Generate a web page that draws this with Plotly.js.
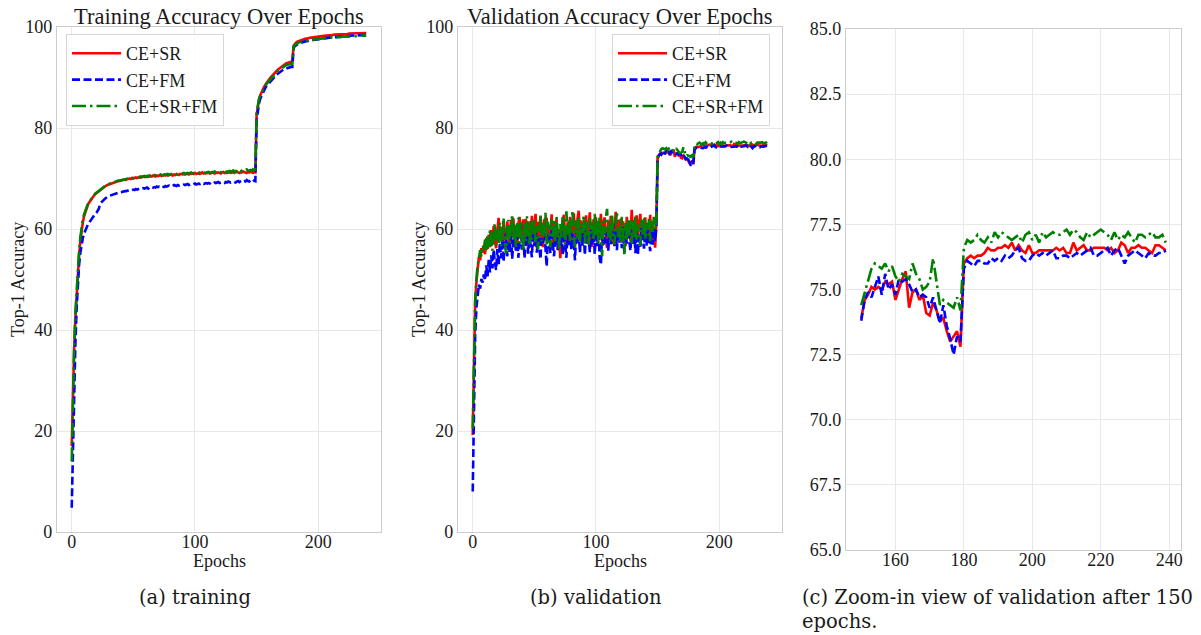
<!DOCTYPE html>
<html>
<head>
<meta charset="utf-8">
<script src="https://cdn.plot.ly/plotly-3.0.1.min.js"></script>
<style>html,body{margin:0;padding:0;background:#fff;}#chart{width:1201px;height:635px;}</style>
</head>
<body>
<div id="chart"></div>
<script>
// ---------- DATA ----------
const seriesNames = ["CE+SR", "CE+FM", "CE+SR+FM"];

const trainSR = [
17.0,28.0,36.5,42.5,47.5,51.5,54.8,57.6,59.8,61.3,
62.5,63.4,64.1,64.7,65.2,65.6,66.0,66.3,66.6,66.9,
67.1,67.3,67.5,67.7,68.0,68.1,68.3,68.4,68.6,68.7,
68.8,68.9,69.0,69.1,69.1,69.3,69.3,69.4,69.5,69.5,
69.6,69.6,69.7,69.8,69.7,69.9,69.9,70.0,69.9,70.1,
70.0,70.1,70.2,70.1,70.2,70.3,70.2,70.3,70.4,70.3,
70.4,70.3,70.5,70.4,70.5,70.4,70.6,70.5,70.4,70.6,
70.5,70.6,70.7,70.5,70.6,70.7,70.6,70.8,70.6,70.7,
70.8,70.7,70.6,70.8,70.7,70.9,70.8,70.7,70.9,70.8,
70.8,70.9,70.8,71.0,70.9,70.8,71.0,70.9,71.0,70.9,
71.1,70.9,71.0,71.1,70.9,71.0,71.2,71.0,71.1,71.0,
71.1,71.2,71.0,71.1,71.2,71.1,71.0,71.2,71.1,71.2,
71.1,71.0,71.2,71.3,71.1,71.2,71.1,71.3,71.2,71.1,
71.2,71.3,71.1,71.2,71.4,71.2,71.1,71.3,71.2,71.4,
71.3,71.2,71.1,71.3,71.2,71.4,71.2,71.1,71.3,71.2,
82.5,84.6,85.7,86.5,87.1,87.6,88.1,88.5,88.9,89.3,
89.6,89.9,90.2,90.5,90.8,91.0,91.3,91.5,91.7,91.9,
92.1,92.3,92.5,92.6,92.8,92.9,93.0,93.1,93.1,93.2,
96.3,96.7,96.9,97.1,97.2,97.3,97.4,97.5,97.5,97.6,
97.7,97.7,97.8,97.8,97.9,97.9,98.0,98.0,98.0,98.1,
98.1,98.1,98.2,98.2,98.2,98.3,98.3,98.3,98.3,98.4,
98.4,98.4,98.4,98.5,98.5,98.5,98.5,98.5,98.6,98.6,
98.6,98.6,98.6,98.6,98.6,98.7,98.7,98.7,98.7,98.7,
98.7,98.7,98.7,98.8,98.7,98.8,98.8,98.8,98.8,98.8];

const trainFM = [
4.8,18.0,29.0,37.5,44.5,49.5,53.0,55.3,57.0,58.2,
59.1,59.8,60.3,60.8,61.2,61.6,62.0,62.4,62.7,63.0,
63.2,63.5,64.0,65.0,65.3,65.6,65.8,66.0,66.2,66.4,
66.5,66.6,66.7,66.8,66.9,67.0,67.1,67.2,67.2,67.3,
67.3,67.4,67.4,67.5,67.5,67.6,67.6,67.7,67.6,67.7,
67.8,67.7,67.9,67.8,67.9,68.0,67.9,68.0,68.1,68.0,
68.1,68.2,68.0,68.2,68.1,68.3,68.2,68.3,68.2,68.4,
68.3,68.4,68.3,68.5,68.4,68.3,68.5,68.4,68.5,68.6,
68.5,68.6,68.5,68.7,68.6,68.5,68.7,68.6,68.7,68.8,
68.7,68.8,68.7,68.8,68.9,68.7,68.8,68.9,68.8,68.9,
69.0,68.8,68.9,69.0,68.9,69.0,69.1,68.9,69.0,69.1,
69.0,69.1,69.0,69.2,69.1,69.0,69.2,69.1,69.2,69.3,
69.1,69.2,69.3,69.2,69.1,69.3,69.2,69.4,69.3,69.2,
69.3,69.4,69.3,69.2,69.4,69.5,69.3,69.4,69.6,69.4,
69.5,69.4,69.7,69.5,69.4,69.6,69.5,69.3,69.6,69.5,
81.5,83.6,84.9,85.8,86.4,86.9,87.4,87.9,88.3,88.6,
88.9,89.2,89.5,89.8,90.1,90.3,90.5,90.7,90.9,91.1,
91.3,91.4,91.6,91.7,91.8,91.9,92.0,92.0,92.1,92.1,
95.8,96.2,96.4,96.6,96.7,96.8,96.9,97.0,97.1,97.1,
97.2,97.2,97.3,97.3,97.4,97.4,97.5,97.5,97.5,97.6,
97.6,97.6,97.7,97.7,97.7,97.8,97.8,97.8,97.9,97.9,
97.9,97.9,98.0,98.0,98.0,98.0,98.1,98.1,98.1,98.1,
98.1,98.2,98.2,98.2,98.2,98.2,98.3,98.3,98.3,98.3,
98.3,98.3,98.4,98.4,98.4,98.4,98.4,98.4,98.4,98.5];

const trainSRFM = [
14.0,27.5,37.0,43.5,48.5,52.5,55.8,58.4,60.5,61.9,
62.9,63.7,64.3,64.9,65.3,65.7,66.1,66.4,66.7,67.0,
67.2,67.4,67.6,67.8,68.0,68.2,68.3,68.5,68.6,68.8,
68.9,69.0,69.1,69.1,69.3,69.3,69.4,69.5,69.6,69.6,
69.7,69.7,69.8,69.8,69.9,69.9,70.0,70.0,70.1,70.1,
70.1,70.2,70.2,70.3,70.3,70.2,70.4,70.3,70.4,70.5,
70.4,70.5,70.4,70.6,70.5,70.6,70.5,70.7,70.6,70.5,
70.7,70.6,70.8,70.7,70.6,70.8,70.7,70.8,70.9,70.7,
70.8,70.9,70.8,70.9,71.0,70.8,70.9,71.0,70.9,71.0,
71.0,71.1,70.9,71.0,71.1,71.0,71.1,71.2,71.0,71.1,
71.1,71.2,71.1,71.0,71.2,71.1,71.2,71.3,71.1,71.2,
71.2,71.3,71.2,71.1,71.3,71.2,71.4,71.2,71.3,71.4,
71.3,71.2,71.4,71.3,71.5,71.3,71.4,71.3,71.5,71.4,
71.4,71.6,71.4,71.5,71.3,71.5,71.6,71.4,71.5,71.7,
71.5,71.6,71.8,71.5,71.6,71.7,71.5,71.8,71.6,71.7,
83.0,84.8,85.8,86.5,87.0,87.5,87.9,88.3,88.7,89.0,
89.3,89.6,89.9,90.2,90.5,90.7,91.0,91.2,91.4,91.6,
91.8,92.0,92.1,92.3,92.4,92.5,92.6,92.6,92.7,92.7,
96.0,96.4,96.6,96.8,96.9,97.0,97.1,97.1,97.2,97.2,
97.3,97.3,97.4,97.4,97.5,97.5,97.5,97.6,97.6,97.6,
97.7,97.7,97.7,97.7,97.8,97.8,97.8,97.8,97.9,97.9,
97.9,97.9,97.9,98.0,98.0,98.0,98.0,98.0,98.0,98.1,
98.1,98.1,98.1,98.1,98.1,98.1,98.2,98.2,98.2,98.2,
98.2,98.2,98.2,98.2,98.2,98.3,98.3,98.3,98.3,98.3];

const valSR = [
19.2,36.0,45.5,49.5,52.5,54.5,53.8,56.2,55.3,56.8,
55.0,58.2,56.0,58.9,56.4,59.8,57.0,60.6,57.6,56.2,
59.6,62.2,57.8,60.4,56.9,61.3,58.5,57.2,61.5,59.0,
57.0,61.8,58.6,62.1,57.5,60.3,56.3,61.0,62.4,58.0,
60.2,61.9,57.1,62.0,59.0,56.6,61.5,58.4,62.6,57.4,
60.6,63.0,58.1,61.4,57.0,62.5,59.1,56.4,61.9,59.6,
62.2,57.5,60.8,58.3,62.9,57.1,61.2,58.8,62.0,55.9,
59.9,54.2,58.0,61.6,62.8,58.3,56.6,61.3,58.6,62.4,
57.6,61.0,63.1,59.1,57.0,62.0,63.6,58.7,61.7,56.8,
61.4,58.4,62.7,57.2,60.7,63.3,58.1,56.5,61.9,59.2,
62.3,57.9,61.2,59.0,63.0,57.5,61.1,62.3,58.3,56.2,
61.6,58.8,62.6,57.0,60.9,59.4,63.4,57.6,61.8,58.6,
62.0,57.3,61.5,58.5,56.6,62.4,59.0,61.1,57.7,63.8,
58.9,61.8,57.4,62.7,58.3,61.0,63.0,57.8,61.4,58.7,
62.3,57.6,60.9,58.5,62.8,57.3,61.2,58.9,56.3,61.5,
73.9,74.6,74.8,75.1,75.0,75.1,75.0,75.3,75.2,75.3,
74.6,75.0,75.4,75.7,74.3,74.9,75.0,74.6,74.8,74.1,
74.0,74.5,74.2,73.8,73.9,73.4,73.0,73.2,73.4,72.8,
76.0,76.2,76.3,76.2,76.3,76.3,76.4,76.6,76.5,76.5,
76.6,76.6,76.7,76.6,76.8,76.5,76.7,76.5,76.4,76.7,
76.4,76.4,76.5,76.5,76.5,76.5,76.5,76.6,76.5,76.6,
76.4,76.4,76.8,76.5,76.6,76.7,76.5,76.5,76.6,76.6,
76.6,76.6,76.5,76.6,76.4,76.5,76.8,76.7,76.4,76.6,
76.6,76.7,76.6,76.6,76.5,76.4,76.7,76.7,76.6,76.5];

const valFM = [
8.0,27.5,39.0,44.5,47.5,49.0,48.2,50.1,49.4,51.0,
49.8,52.8,50.6,53.9,51.4,54.8,52.2,55.9,53.3,51.9,
56.0,52.8,57.3,54.2,58.0,53.5,56.9,59.2,54.6,57.6,
55.2,59.4,54.1,58.1,60.3,55.4,58.7,54.3,58.4,61.0,
55.9,59.0,54.2,58.3,59.9,55.1,59.3,56.8,54.4,59.7,
56.6,60.4,55.3,58.8,56.5,54.0,59.6,57.2,60.1,55.7,
52.6,58.6,59.3,55.2,60.0,56.9,54.6,58.9,60.8,55.8,
59.2,56.4,60.3,54.9,59.4,57.0,54.3,59.7,56.6,60.6,
55.8,59.1,57.1,53.8,59.9,57.3,59.2,55.3,60.2,56.7,
59.4,54.8,60.0,57.1,58.8,55.4,60.5,56.9,59.6,55.0,
59.7,56.6,60.1,54.3,52.9,59.2,56.5,59.8,57.2,59.4,
55.7,60.3,57.0,58.9,61.0,56.6,59.5,55.8,60.0,57.3,
59.3,56.2,60.4,55.3,59.6,57.1,60.1,57.6,55.7,59.8,
56.8,59.7,55.2,60.5,54.9,59.1,56.4,60.2,57.5,56.1,
59.4,56.7,59.9,57.3,55.6,59.5,56.9,60.0,57.6,60.4,
73.8,74.6,74.9,74.7,75.1,75.5,74.8,75.6,75.0,75.2,
74.8,75.4,75.3,75.4,75.2,74.9,75.0,74.7,74.8,74.7,
74.3,74.7,74.2,73.7,74.4,73.6,73.1,72.5,73.2,73.0,
75.8,76.1,76.0,75.9,76.1,76.1,76.0,76.0,76.2,76.1,
76.2,76.1,76.3,76.2,76.3,76.5,76.6,76.2,76.1,76.1,
76.3,76.4,76.3,76.4,76.3,76.4,76.5,76.2,76.2,76.3,
76.3,76.2,76.3,76.4,76.3,76.4,76.5,76.6,76.3,76.3,
76.4,76.5,76.6,76.3,76.5,76.6,76.3,76.0,76.3,76.4,
76.5,76.4,76.3,76.2,76.4,76.3,76.3,76.4,76.4,76.5];

const valSRFM = [
20.5,37.0,46.0,50.0,53.0,54.0,55.8,54.6,56.7,55.9,
57.9,55.8,58.9,56.4,59.9,57.2,55.7,59.7,61.1,56.8,
59.9,57.1,61.3,56.6,60.5,62.2,57.5,55.2,60.3,61.8,
57.2,60.4,62.9,57.9,61.1,56.4,60.6,62.2,57.2,61.5,
59.2,55.6,61.0,57.6,62.5,59.6,56.7,61.7,57.9,60.1,
62.0,57.3,60.7,56.0,60.3,62.9,57.6,61.2,58.5,63.2,
57.0,61.4,58.7,56.4,62.0,58.4,61.6,57.4,62.4,59.6,
56.1,61.0,58.0,62.7,59.0,57.0,63.5,58.9,61.8,57.4,
61.2,63.7,58.4,56.4,61.7,58.2,62.3,57.5,61.0,59.2,
62.8,57.1,61.5,58.6,56.8,62.2,59.1,61.3,57.7,63.0,
58.6,61.8,57.2,62.6,58.4,54.6,61.6,59.1,62.2,64.0,
58.3,61.3,57.5,62.8,59.4,56.9,61.5,63.1,58.4,60.5,
57.4,62.4,59.1,55.0,61.2,57.9,62.0,58.6,61.7,57.1,
61.4,58.3,62.6,57.7,61.0,59.0,56.7,61.8,58.5,62.3,
57.9,61.2,58.8,62.0,57.6,61.6,59.2,62.4,60.0,61.8,
74.4,74.9,75.4,75.8,76.0,75.9,75.8,76.0,75.7,75.9,
75.5,75.3,75.6,75.5,75.4,76.0,75.6,75.4,75.0,75.1,
75.3,76.2,75.2,74.4,74.6,74.5,74.4,74.3,74.7,74.2,
76.6,76.9,76.8,76.9,77.1,76.9,76.8,77.0,76.8,77.2,
77.0,77.2,77.1,77.0,76.9,77.0,77.1,76.8,77.1,77.2,
76.9,77.1,76.8,77.2,77.0,77.1,77.2,77.1,77.1,77.2,
77.3,77.1,77.3,77.2,77.0,76.9,77.2,77.0,77.1,77.2,
77.3,77.2,77.1,76.9,77.2,76.9,77.1,77.0,77.2,77.0,
76.8,77.1,77.1,77.0,77.1,77.2,77.0,77.0,77.1,76.8];

const zoomStartEpoch = 150;

const xTicksAB = [0, 100, 200];
const yTicksAB = [0, 20, 40, 60, 80, 100];
const xTicksC = [160, 180, 200, 220, 240];
const yTicksC = [65, 67.5, 70, 72.5, 75, 77.5, 80, 82.5, 85];

// ---------- STYLE ----------
const colors = ["#ff0000", "#0000ff", "#008000"];
const dashes = ["solid", "8px,3.5px", "14px,4px,2.5px,4px"];
const LW = 2.6;
const SERIF = "'Liberation Serif', 'Times New Roman', serif";
const CAPF = "'DejaVu Serif', serif";
const gridC = "#e8e8e8";
const spineC = "#cccccc";
const TXT = "#1a1a1a";

const epochs = arr => arr.map((_, i) => i);

const trainSets = [trainSR, trainFM, trainSRFM];
const valSets = [valSR, valFM, valSRFM];

const traces = [];
trainSets.forEach((d, k) => traces.push({
  x: epochs(d), y: d, type: "scatter", mode: "lines", name: seriesNames[k],
  xaxis: "x", yaxis: "y", legend: "legend", legendgroup: "a" + k,
  line: {color: colors[k], width: LW, dash: dashes[k]}
}));
valSets.forEach((d, k) => traces.push({
  x: epochs(d), y: d, type: "scatter", mode: "lines", name: seriesNames[k],
  xaxis: "x2", yaxis: "y2", legend: "legend2", legendgroup: "b" + k,
  line: {color: colors[k], width: LW, dash: dashes[k]}
}));
valSets.forEach((d, k) => {
  const xs = epochs(d).slice(zoomStartEpoch);
  traces.push({
    x: xs, y: d.slice(zoomStartEpoch), type: "scatter", mode: "lines", name: seriesNames[k],
    xaxis: "x3", yaxis: "y3", showlegend: false,
    line: {color: colors[k], width: LW, dash: dashes[k]}
  });
});

const W = 1201, H = 635;
const px = v => v / W, py = v => 1 - v / H;

function axis(extra) {
  return Object.assign({
    showgrid: true, gridcolor: gridC, gridwidth: 1, zeroline: false,
    showline: true, linecolor: spineC, linewidth: 1.2, mirror: true,
    ticks: "", tickfont: {family: SERIF, size: 18, color: TXT},
    tickmode: "array", fixedrange: true
  }, extra);
}

const legendBase = {
  bgcolor: "rgba(255,255,255,0.85)", bordercolor: "#d6d6d6", borderwidth: 1,
  font: {family: SERIF, size: 18, color: TXT},
  itemwidth: 49, tracegroupgap: 0, traceorder: "grouped",
  xanchor: "left", yanchor: "top"
};

const ann = (text, x, y, size, opts) => Object.assign({
  text, x: px(x), y: py(y), xref: "paper", yref: "paper", showarrow: false,
  font: {family: SERIF, size, color: TXT}, xanchor: "center", yanchor: "middle"
}, opts || {});
const capFont = {family: CAPF, size: 19.5, color: TXT};

const layout = {
  width: W, height: H, margin: {l: 0, r: 0, t: 0, b: 0},
  paper_bgcolor: "#ffffff", plot_bgcolor: "#ffffff",
  font: {family: SERIF, size: 18, color: TXT},
  showlegend: true,
  xaxis: axis({domain: [px(57), px(381)], range: [-11.95, 250.95], tickvals: xTicksAB, anchor: "y", ticklabelstandoff: -7}),
  yaxis: axis({domain: [py(532), py(27)], range: [0, 100], tickvals: yTicksAB, anchor: "x"}),
  xaxis2: axis({domain: [px(458), px(782)], range: [-11.95, 250.95], tickvals: xTicksAB, anchor: "y2", ticklabelstandoff: -7}),
  yaxis2: axis({domain: [py(532), py(27)], range: [0, 100], tickvals: yTicksAB, anchor: "x2"}),
  xaxis3: axis({domain: [px(846), px(1181)], range: [145.55, 243.45], tickvals: xTicksC, anchor: "y3", ticklabelstandoff: -7}),
  yaxis3: axis({domain: [py(550), py(29)], range: [65, 85], tickvals: yTicksC, tickformat: ".1f", anchor: "x3"}),
  legend: Object.assign({}, legendBase, {x: px(66), y: py(34)}),
  legend2: Object.assign({}, legendBase, {x: px(612), y: py(34)}),
  annotations: [
    ann("Training Accuracy Over Epochs", 219, 16, 22.5),
    ann("Validation Accuracy Over Epochs", 620, 16, 22.5),
    ann("Epochs", 219, 561, 18),
    ann("Epochs", 620, 561, 18),
    ann("Top-1 Accuracy", 18, 280, 18, {textangle: -90}),
    ann("Top-1 Accuracy", 419, 280, 18, {textangle: -90}),
    ann("(a) training", 195, 597, 19.5, {font: capFont}),
    ann("(b) validation", 596, 597, 19.5, {font: capFont}),
    ann("(c) Zoom-in view of validation after 150", 800, 597, 19.5, {xanchor: "left", font: capFont}),
    ann("epochs.", 800, 621, 19.5, {xanchor: "left", font: capFont})
  ]
};

Plotly.newPlot("chart", traces, layout, {staticPlot: true, displayModeBar: false});
</script>
</body>
</html>
